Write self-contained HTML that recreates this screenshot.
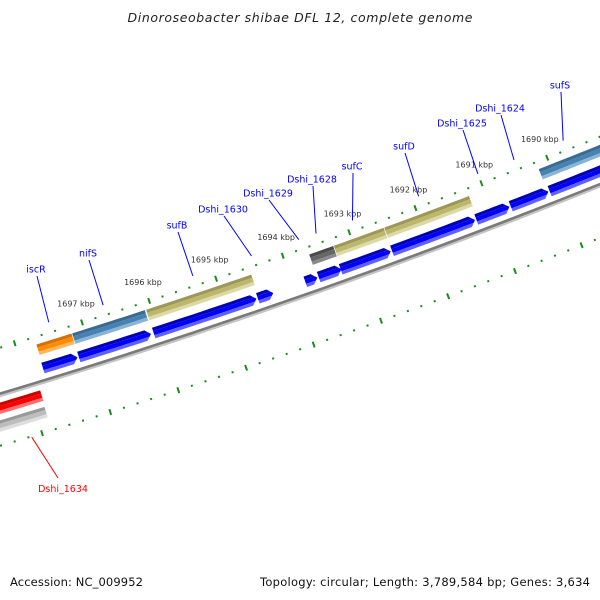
<!DOCTYPE html>
<html><head><meta charset="utf-8"><style>
html,body{margin:0;padding:0;background:#fff;}
svg{display:block;}
</style></head><body>
<svg id="chart" width="600" height="600" viewBox="0 0 600 600" xmlns="http://www.w3.org/2000/svg">
<rect width="600" height="600" fill="#fff"/>
<text x="300" y="22" text-anchor="middle" font-family="DejaVu Sans, Liberation Sans, sans-serif" font-style="italic" font-size="12.5" fill="#222" textLength="345">Dinoroseobacter shibae DFL 12, complete genome</text>
<g id="backbone"></g>
<g id="ticks"></g>
<g id="features"></g>
<g id="labels"></g>
<text x="10" y="586" font-family="DejaVu Sans, Liberation Sans, sans-serif" font-size="11.5" fill="#111" textLength="133">Accession: NC_009952</text>
<text x="590" y="586" text-anchor="end" font-family="DejaVu Sans, Liberation Sans, sans-serif" font-size="11.5" fill="#111" textLength="330">Topology: circular; Length: 3,789,584 bp; Genes: 3,634</text>
</svg>
<script>
// data (kbp positions)
const geneStart=[1697.71,1697.18,1696.08,1693.64,1693.27,1692.51,1690.17];
const geneEnd=[1697.19,1696.10,1694.51,1693.28,1692.52,1691.23,1688.9];
const geneKind=['orange','steel','khaki','dark','khaki','khaki','steel'];
const cdsStart=[1697.72,1697.19,1696.08,1694.53,1693.82,1693.62,1693.29,1692.52,1691.25,1690.73,1690.14];
const cdsEnd=[1697.21,1696.12,1694.55,1694.30,1693.64,1693.28,1692.54,1691.27,1690.75,1690.16,1688.9];
const lowStart=[1698.9,1698.9];
const lowEnd=[1697.85,1697.86];
const lowKind=['red','gray'];
const kbpTicks=[1690,1691,1692,1693,1694,1695,1696,1697];
const kbpLabels=['1690 kbp','1691 kbp','1692 kbp','1693 kbp','1694 kbp','1695 kbp','1696 kbp','1697 kbp'];
const geneNames=['iscR','nifS','sufB','Dshi_1630','Dshi_1629','Dshi_1628','sufC','sufD','Dshi_1625','Dshi_1624','sufS'];
const geneMid=[1697.45,1696.64,1695.3,1694.42,1693.71,1693.45,1692.9,1691.9,1691.0,1690.45,1689.7];
const redNames=['Dshi_1634'];
const redMid=[1698.1];

// layout
const labelX=[36,88,177,223,268,312,352,404,462,500,560];
const labelY=[269,253,225,209,193,179,166,146,123,108,85];
const NS='http://www.w3.org/2000/svg';
const Cx=-2053,Cy=-6449,TH0=17.5*Math.PI/180,DTH=0.00993,RB=7144;
function pt(k,r){const t=TH0+(1697-k)*DTH;return [Cx+r*Math.sin(t),Cy+r*Math.cos(t)];}
function mk(tag,attrs,parent){const e=document.createElementNS(NS,tag);for(const a in attrs)e.setAttribute(a,attrs[a]);parent.appendChild(e);return e;}
function f(p){return p[0].toFixed(2)+','+p[1].toFixed(2);}
const colors={
 orange:['#d87000','#ff8c00','#ffb860'],
 steel:['#3a6a92','#4682b4','#8ab4d6'],
 khaki:['#9e9858','#bdb76b','#dcd8a8'],
 dark:['#4a4a4a','#666666','#8a8a8a'],
 red:['#cc0000','#ff0000','#ff7070'],
 gray:['#999999','#bdbdbd','#dddddd'],
 blue:['#0000b8','#0000ff','#6060ff']
};
function shape(k1,k2,ra,rb,rin,rout,tip){
  const rm=(rin+rout)/2,h=(rout-rin)/2;
  const kr=r=>k2+tip*Math.abs(r-rm)/h;
  const pts=[];const n=10;
  for(let i=0;i<=n;i++){pts.push(pt(k1+(kr(ra)-k1)*i/n,ra));}
  if(tip>0&&ra<rm&&rb>rm)pts.push(pt(kr(rm),rm));
  for(let i=0;i<=n;i++){pts.push(pt(kr(rb)+(k1-kr(rb))*i/n,rb));}
  return pts.map(f).join(' ');
}
function feature(k1,k2,rc,h,kind,tip,name){
  const g=document.getElementById('features');
  const rin=rc-h/2,rout=rc+h/2,c=colors[kind];
  const grp=mk('g',{},g);
  
  
  const bands=[[rin,rin+h*0.3,c[0]],[rin+h*0.3,rout-h*0.3,c[1]],[rout-h*0.3,rout,c[2]]];
  bands.forEach(b=>{mk('polygon',{points:shape(k1,k2,b[0],b[1],rin,rout,tip),fill:b[2]},grp);});
}
(function(){
  const g=document.getElementById('backbone');
  function arc(r,stroke,w){const a=pt(1700,r),b=pt(1688,r);
    return mk('path',{d:'M'+f(a)+' A'+r+','+r+' 0 0 0 '+f(b),fill:'none',stroke:stroke,'stroke-width':w},g);}
  const p1=arc(RB+2.2,'#c4c4c4',2.4);
  
  
  const p2=arc(RB,'#7a7a7a',2.6);
  
  
})();
(function(){
  const g=document.getElementById('ticks');
  [RB-44,RB+50].forEach((rt,ti)=>{
    for(let i=0;i<=60;i++){
      const k=1688+i*0.2;
      const major=(i%5===0);
      const L=major?3:1;
      const a=pt(k,rt-L),b=pt(k,rt+L);
      const t=mk('line',{x1:a[0],y1:a[1],x2:b[0],y2:b[1],stroke:'#1a8a1a','stroke-width':2},g);
      
      
    }
  });
  kbpTicks.forEach((k,i)=>{
    const p=pt(k,RB-44-20);
    const t=mk('text',{x:p[0],y:p[1]+3,'text-anchor':'middle','font-family':'DejaVu Sans, Liberation Sans, sans-serif','font-size':8,fill:'#333'},g);
    t.textContent=kbpLabels[i];
    
    
  });
})();
geneStart.forEach((s,i)=>feature(s,geneEnd[i],RB-31,11,geneKind[i],0,'gene-box-'+i));
cdsStart.forEach((s,i)=>feature(s,cdsEnd[i],RB-12,11,'blue',0.075,'cds-arrow-'+i));
lowStart.forEach((s,i)=>feature(s,lowEnd[i],RB+(i===0?14:31),11,lowKind[i],0,'lower-box-'+lowKind[i]));
(function(){
  const g=document.getElementById('labels');
  geneNames.forEach((n,i)=>{
    const e=pt(geneMid[i],7090);
    const l=mk('line',{x1:labelX[i]+1,y1:labelY[i]+7,x2:e[0],y2:e[1],stroke:'#0000ff','stroke-width':1},g);
    
    
    const t=mk('text',{x:labelX[i],y:labelY[i]+3.5,'text-anchor':'middle','font-family':'DejaVu Sans, Liberation Sans, sans-serif','font-size':9.5,fill:'#0000ff'},g);
    t.textContent=n;
    
    
  });
  redNames.forEach((n,i)=>{
    const s=pt(redMid[i],RB+52);
    const l=mk('line',{x1:s[0]-4,y1:s[1],x2:58,y2:478,stroke:'#ff0000','stroke-width':1},g);
    
    
    const t=mk('text',{x:63,y:492,'text-anchor':'middle','font-family':'DejaVu Sans, Liberation Sans, sans-serif','font-size':9.5,fill:'#ff0000'},g);
    t.textContent=n;
    
    
  });
})();
</script>
</body></html>
